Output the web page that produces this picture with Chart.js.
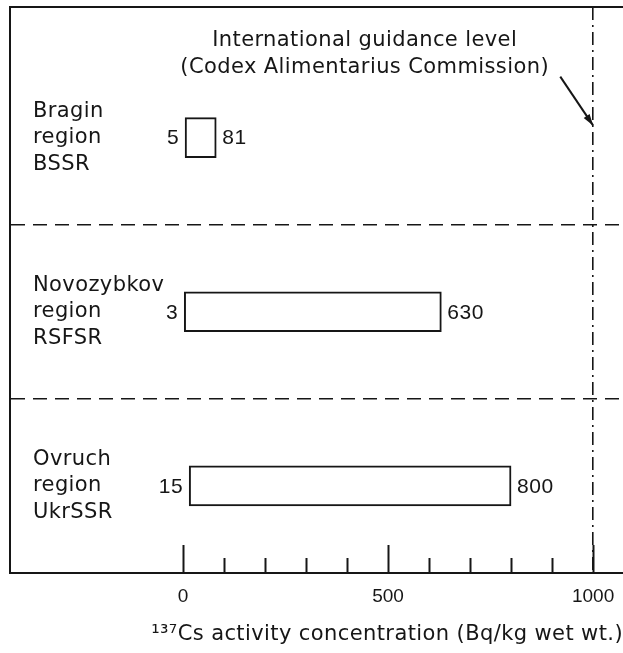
<!DOCTYPE html>
<html>
<head>
<meta charset="utf-8">
<script src="https://cdn.jsdelivr.net/npm/chart.js@4.4.1/dist/chart.umd.min.js"></script>
<style>
  html, body { margin: 0; padding: 0; background: #ffffff; }
  #wrap { width: 623px; height: 653px; position: relative; }
</style>
</head>
<body>
<div id="wrap"><canvas id="c" width="623" height="653"></canvas></div>
<script>
// ---- data ----
const categories = [
  ['Bragin', 'region', 'BSSR'],
  ['Novozybkov', 'region', 'RSFSR'],
  ['Ovruch', 'region', 'UkrSSR']
];
const lowValues  = [5, 3, 15];
const highValues = [81, 630, 800];
const xTickValues = [0, 100, 200, 300, 400, 500, 600, 700, 800, 900, 1000];
const xTickLabels = ['0', '', '', '', '', '500', '', '', '', '', '1000'];
const guidanceLevel = 1000;
const guidanceText = ['International guidance level', '(Codex Alimentarius Commission)'];
const xTitle = '\u00B9\u00B3\u2077Cs activity concentration (Bq/kg wet wt.)';

const INK = '#161616';
const FONT = "'DejaVu Sans', Verdana, sans-serif";
const TICKFONT = "'Liberation Sans', Arial, Helvetica, sans-serif";
const SPACING = '0.4px';

const decorPlugin = {
  id: 'decor',
  beforeLayout(chart) { chart.ctx.letterSpacing = SPACING; },
  beforeDraw(chart) { chart.ctx.letterSpacing = SPACING; },
  afterDatasetsDraw(chart) {
    const ctx = chart.ctx;
    const xs = chart.scales.x, ys = chart.scales.y;
    const area = chart.chartArea;
    ctx.save();
    // top frame line
    ctx.strokeStyle = INK; ctx.lineWidth = 2;
    ctx.beginPath(); ctx.moveTo(area.left - 1, area.top); ctx.lineTo(area.right, area.top); ctx.stroke();
    // tick marks pointing up into the plot
    xTickValues.forEach(v => {
      const px = Math.round(xs.getPixelForValue(v)) + 0.5;
      const len = (v % 500 === 0) ? 28 : 15;
      ctx.lineWidth = 2;
      ctx.beginPath(); ctx.moveTo(px, area.bottom); ctx.lineTo(px, area.bottom - len); ctx.stroke();
    });
    // value labels at bar ends
    ctx.fillStyle = INK;
    ctx.font = '21px ' + TICKFONT;
    ctx.textBaseline = 'middle';
    ctx.letterSpacing = '0.5px';
    const meta = chart.getDatasetMeta(0);
    meta.data.forEach((bar, i) => {
      const p = bar.getProps(['x', 'base', 'y'], true);
      const left = Math.min(p.x, p.base), right = Math.max(p.x, p.base);
      ctx.textAlign = 'right';
      ctx.fillText(String(lowValues[i]), left - 6, p.y + 1);
      ctx.textAlign = 'left';
      ctx.fillText(String(highValues[i]), right + 6, p.y + 1);
    });
    // guidance annotation
    ctx.letterSpacing = SPACING;
    ctx.textAlign = 'center';
    ctx.font = '21px ' + FONT;
    const tx = xs.getPixelForValue(443);
    ctx.fillText(guidanceText[0], tx, ys.getPixelForValue(-0.555));
    ctx.fillText(guidanceText[1], tx, ys.getPixelForValue(-0.40));
    // arrow
    const ax0 = xs.getPixelForValue(920), ay0 = ys.getPixelForValue(-0.35);
    const ax1 = xs.getPixelForValue(guidanceLevel), ay1 = ys.getPixelForValue(-0.07);
    ctx.lineWidth = 2;
    ctx.beginPath(); ctx.moveTo(ax0, ay0); ctx.lineTo(ax1, ay1); ctx.stroke();
    const ang = Math.atan2(ay1 - ay0, ax1 - ax0);
    const hl = 12, hw = 0.3;
    ctx.beginPath();
    ctx.moveTo(ax1, ay1);
    ctx.lineTo(ax1 - hl * Math.cos(ang - hw), ay1 - hl * Math.sin(ang - hw));
    ctx.lineTo(ax1 - hl * Math.cos(ang + hw), ay1 - hl * Math.sin(ang + hw));
    ctx.closePath(); ctx.fill();
    ctx.restore();
    // x tick labels (drawn after this, z=1) use normal spacing
    ctx.letterSpacing = '0px';
  }
};

new Chart(document.getElementById('c'), {
  type: 'bar',
  data: {
    datasets: [{
      data: lowValues.map((lo, i) => ({ x: [lo, highValues[i]], y: i })),
      backgroundColor: '#ffffff',
      borderColor: INK,
      borderWidth: 2,
      borderSkipped: false,
      barThickness: 40
    }]
  },
  options: {
    indexAxis: 'y',
    responsive: false,
    animation: false,
    layout: { padding: { left: 10, top: 7, right: 0, bottom: 0 } },
    plugins: { legend: { display: false }, tooltip: { enabled: false } },
    scales: {
      x: {
        type: 'linear',
        position: 'bottom',
        min: -422,
        max: 1073,
        afterBuildTicks: s => { s.ticks = xTickValues.map(v => ({ value: v })); },
        afterFit: s => { s.height = 80; s.paddingLeft = 0; s.paddingRight = 0; },
        ticks: {
          z: 1,
          autoSkip: false,
          maxRotation: 0,
          padding: 12,
          color: INK,
          font: { family: TICKFONT, size: 19 },
          callback: (v) => { const i = xTickValues.indexOf(v); return i >= 0 ? xTickLabels[i] : ''; }
        },
        grid: {
          drawTicks: false,
          color: c => (c.tick && c.tick.value === guidanceLevel) ? INK : 'rgba(0,0,0,0)',
          lineWidth: 1.6
        },
        border: { display: true, color: INK, width: 2, dash: [13, 5, 2, 5] },
        title: {
          display: true,
          text: xTitle,
          align: 'end',
          color: INK,
          font: { family: FONT, size: 21 },
          padding: { top: 0, bottom: 6 }
        }
      },
      y: {
        type: 'linear',
        position: 'left',
        reverse: true,
        offset: false,
        min: -0.75,
        max: 2.5,
        afterBuildTicks: s => { s.ticks = categories.map((c, i) => ({ value: i })); },
        afterFit: s => { s.width = 0; s.paddingTop = 0; s.paddingBottom = 0; },
        ticks: {
          mirror: true,
          padding: 23,
          color: INK,
          font: { family: FONT, size: 21, lineHeight: 1.26 },
          callback: v => categories[v] || ''
        },
        grid: {
          offset: true,
          drawTicks: false,
          color: c => (c.index === 1 || c.index === 2) ? INK : 'rgba(0,0,0,0)',
          lineWidth: 1.6
        },
        border: { display: true, color: INK, width: 2, dash: [14, 8] }
      }
    }
  },
  plugins: [decorPlugin]
});
</script>
</body>
</html>
